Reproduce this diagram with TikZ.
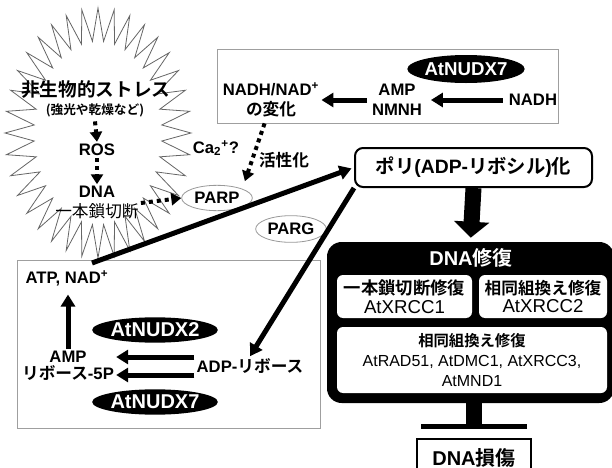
\documentclass[tikz,border=0pt]{standalone}
\usepackage{fontspec}
\setmainfont{Liberation Sans}
\newfontfamily\jp{Noto Sans CJK JP}[BoldFont={Noto Sans CJK JP Bold}]
\usetikzlibrary{arrows.meta,fit,shapes.geometric}

\begin{document}
\begin{tikzpicture}[x=0.75pt,y=0.75pt,yscale=-1,xscale=1,
  lbl/.style={font=\fontsize{12.5}{15}\selectfont\bfseries, align=center, inner sep=1.5pt},
  enz/.style={ellipse, fill=black, text=white, font=\fontsize{14}{16}\selectfont\bfseries, minimum width=79pt, minimum height=21pt, inner sep=0pt},
  ovl/.style={ellipse, draw=gray!80, line width=0.6pt, fill=white, font=\fontsize{12.5}{15}\selectfont\bfseries, minimum width=53pt, minimum height=19pt, inner sep=0pt},
  frame/.style={draw=gray!75, line width=0.6pt, inner sep=0pt},
  inbox/.style={fill=white, rounded corners=4.5pt, inner sep=0pt, align=center},
  fatarrow/.style={line width=3.75pt, -{Triangle[length=9pt,width=10.5pt]}},
  dotarrow/.style={line width=3pt, dash pattern=on 3pt off 3pt, -{Triangle[length=7.5pt,width=9pt]}}
]
\useasboundingbox (0,0) rectangle (612,468);

% stress burst
\draw [black!60, line width=0.6pt, fill=white] plot[variable=\k, samples at={0,...,71}] ({98+cos(\k*5)*(mod(\k,2)==0 ? 93 : 64)}, {133+sin(\k*5)*(mod(\k,2)==0 ? 125 : 92)}) -- cycle ;
\node [font=\fontsize{14}{16}\selectfont\bfseries\jp] (stress) at (96,90) {非生物的ストレス};
\node [font=\fontsize{9.5}{11}\selectfont\bfseries\jp] (stressex) at (95,110) {(強光や乾燥など)};
\node [lbl] (ros) at (97,150) {ROS};
\node [lbl] (dna) at (97,203) {DNA\\{\jp\mdseries 一本鎖切断}};
\draw [dotarrow] (stressex.south) -- (ros.north) ;
\draw [dotarrow] (ros.south) -- (dna.north) ;

% NADH box
\node [frame, fit={(217,49) (558,123)}] (topbox) {};
\node [enz] (nudxtop) at (466,69) {AtNUDX7};
\node [lbl] (nmnh) at (397,100) {AMP\\NMNH};
\node [lbl] (nadh) at (533,100) {NADH};
\node [lbl] (nadchg) at (271,100) {NADH/NAD\textsuperscript{+}\\{\jp の変化}};
\draw [fatarrow, shorten <=3pt, shorten >=5pt] (nadh) -- (nmnh) ;
\draw [fatarrow, shorten <=2pt] (nmnh) -- (nadchg) ;

% PARP, PARG
\node [ovl] (parp) at (217,198) {PARP};
\node [ovl, minimum height=20pt] (parg) at (291,229) {PARG};
\node [lbl] (ca) at (216,148) {Ca\textsubscript{2}\textsuperscript{+}?};
\node [lbl] (act) at (284,160) {{\jp 活性化}};
\draw [dotarrow, shorten >=6pt] (topbox.south west) ++(48,0) -- (parp.north east) ;
\draw [dotarrow] (dna.east) -- (parp.west) ;

% poly(ADP-ribosyl)ation
\node [draw, line width=1.5pt, rounded corners=6pt, minimum width=177.75pt, minimum height=29.25pt, font=\fontsize{14.5}{16}\selectfont\bfseries] (poly) at (473.5,167.5) {{\jp ポリ}(ADP-{\jp リボシル}){\jp 化}};

% DNA repair
\node [fit={(327,242) (614,403)}, fill=black, rounded corners=11pt, inner sep=0pt] (repair) {};
\node [font=\fontsize{15}{17}\selectfont\bfseries, text=white] (repairttl) at (471,258) {DNA{\jp 修復}};
\node [inbox, minimum width=101.25pt, minimum height=32.25pt, font=\fontsize{14}{14}\selectfont] (ssbr) at (404.5,296.5) {{\fontsize{13}{13}\selectfont\jp\bfseries 一本鎖切断修復}\\AtXRCC1};
\node [inbox, minimum width=96pt, minimum height=32.25pt, font=\fontsize{14}{14}\selectfont] (hra) at (543,296.5) {{\fontsize{12.5}{13}\selectfont\jp\bfseries 相同組換え修復}\\AtXRCC2};
\node [inbox, minimum width=202.5pt, minimum height=49.5pt, font=\fontsize{12}{15}\selectfont] (hrb) at (472,360) {{\fontsize{11.5}{13}\selectfont\jp\bfseries 相同組換え修復}\\AtRAD51, AtDMC1, AtXRCC3,\\AtMND1};
\node [draw, line width=1.5pt, anchor=north, minimum width=86pt, minimum height=28pt, font=\fontsize{15}{17}\selectfont\bfseries] (damage) at (474,438) {DNA{\jp 損傷}};
\draw [line width=12pt, -{Triangle[length=12pt,width=26pt]}, shorten >=3pt] (poly.south) -- (repair.north) ;
\draw [line width=12pt, -{Bar[width=79.5pt,line width=3.75pt]}, shorten >=6.5pt] (damage.north |- repair.south) -- (damage.north) ;

% ADP-ribose box
\node [frame, fill=white, fit={(17,260) (320,428)}] (lowbox) {};
\node [lbl] (atp) at (67,278) {ATP, NAD\textsuperscript{+}};
\node [lbl, font=\fontsize{12.5}{13}\selectfont\bfseries] (amp) at (68,366) {AMP\\{\jp リボース}-5P};
\node [enz, minimum width=86pt, minimum height=19pt, font=\fontsize{15}{17}\selectfont\bfseries] (nudxa) at (155,330) {AtNUDX2};
\node [enz, minimum width=86pt, minimum height=19pt, font=\fontsize{15}{17}\selectfont\bfseries] (nudxb) at (155,402) {AtNUDX7};
\node [lbl] (adp) at (250,366) {ADP-{\jp リボース}};
\draw [fatarrow, shorten >=5pt] (amp.north) -- (amp.north |- atp.south) ;
\draw [fatarrow] ([yshift=6.75pt]adp.west) -- ([yshift=6.75pt]amp.east) ;
\draw [fatarrow] ([yshift=-6.75pt]adp.west) -- ([yshift=-6.75pt]amp.east) ;

% long arrows
\coordinate (atpout) at (92,263);
\draw [fatarrow, shorten >=2pt] (atpout) -- (poly.west) ;
\draw [fatarrow] (poly.south west) -- (adp.north) ;
\end{tikzpicture}
\end{document}
